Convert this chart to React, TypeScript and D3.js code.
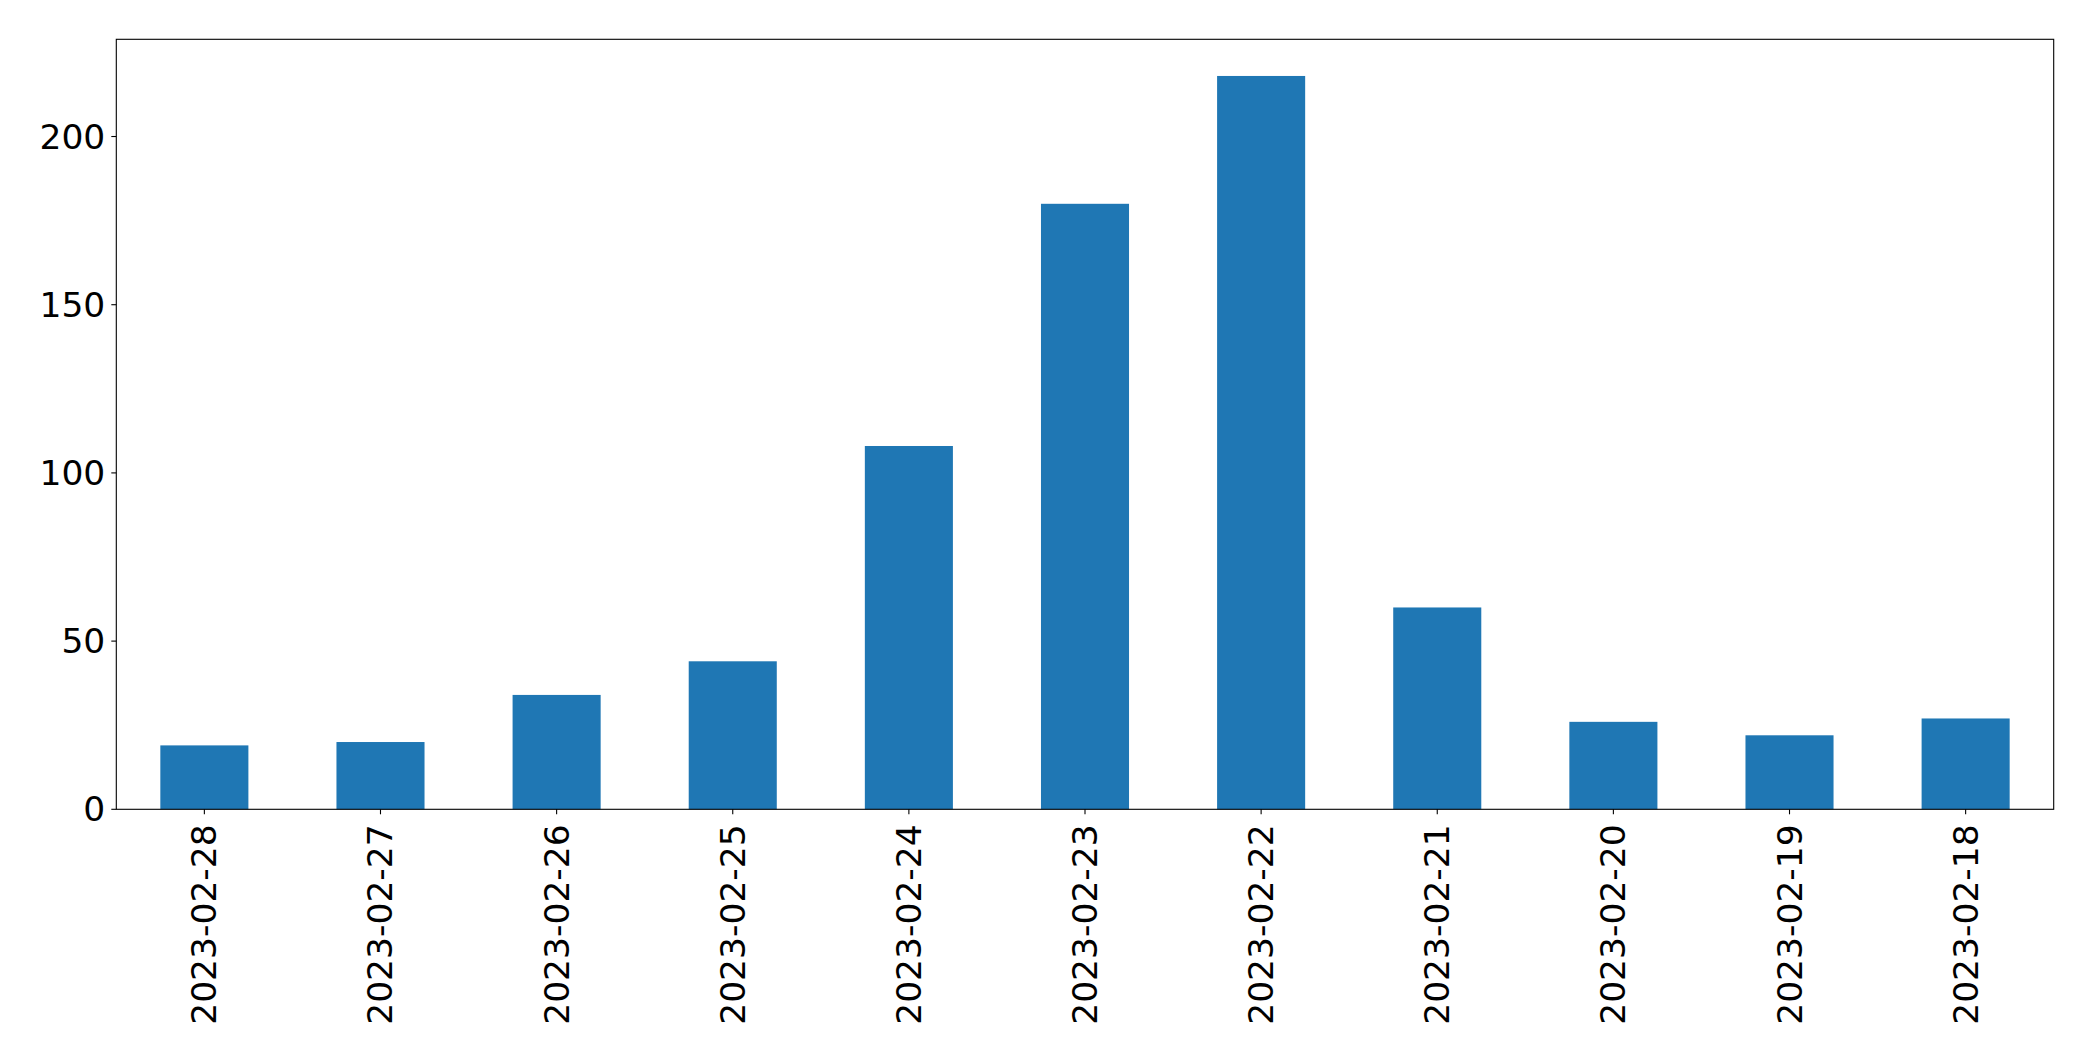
import * as d3 from "d3";

const WIDTH = 2093;
const HEIGHT = 1061;

const DATES = [
  "2023-02-28",
  "2023-02-27",
  "2023-02-26",
  "2023-02-25",
  "2023-02-24",
  "2023-02-23",
  "2023-02-22",
  "2023-02-21",
  "2023-02-20",
  "2023-02-19",
  "2023-02-18",
];
const COUNTS = [19, 20, 34, 44, 108, 180, 218, 60, 26, 22, 27];
const Y_TICKS = [0, 50, 100, 150, 200];

const M = { left: 116.3, right: 2053.7, top: 39.3, bottom: 809.3 };
const FONT = "'DejaVu Sans', sans-serif";
const FS = 34.5;

export default function App() {
  const x = d3
    .scaleBand<string>()
    .domain(DATES)
    .range([M.left, M.right])
    .paddingInner(0.5)
    .paddingOuter(0.25);
  const y = d3
    .scaleLinear()
    .domain([0, d3.max(COUNTS)! * 1.05])
    .range([M.bottom, M.top]);

  return (
    <svg
      width={WIDTH}
      height={HEIGHT}
      style={{ position: "absolute", left: 0, top: 0, background: "#fff" }}
    >
      {DATES.map((d, i) => (
        <rect
          key={d}
          x={x(d)}
          y={y(COUNTS[i])}
          width={x.bandwidth()}
          height={y(0) - y(COUNTS[i])}
          fill="#1f77b4"
        />
      ))}
      <rect
        x={M.left}
        y={M.top}
        width={M.right - M.left}
        height={M.bottom - M.top}
        fill="none"
        stroke="#000"
        strokeWidth={1.1}
      />
      {Y_TICKS.map((t) => (
        <g key={t}>
          <line x1={M.left - 5} x2={M.left} y1={y(t)} y2={y(t)} stroke="#000" strokeWidth={1.1} />
          <text
            x={M.left - 11}
            y={y(t)}
            textAnchor="end"
            dominantBaseline="central"
            fontFamily={FONT}
            fontSize={FS}
            fill="#000"
          >
            {t}
          </text>
        </g>
      ))}
      {DATES.map((d) => {
        const cx = x(d)! + x.bandwidth() / 2;
        return (
          <g key={d}>
            <line x1={cx} x2={cx} y1={M.bottom} y2={M.bottom + 5} stroke="#000" strokeWidth={1.1} />
            <text
              transform={`translate(${cx},${M.bottom + 15}) rotate(-90)`}
              textAnchor="end"
              dominantBaseline="central"
              fontFamily={FONT}
              fontSize={FS}
              fill="#000"
            >
              {d}
            </text>
          </g>
        );
      })}
    </svg>
  );
}
